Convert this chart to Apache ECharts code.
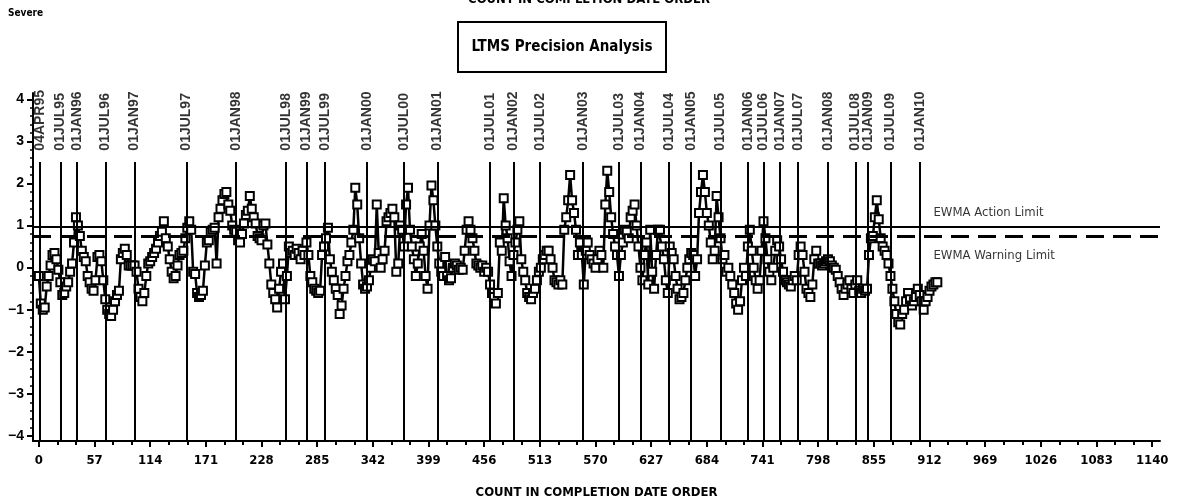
<!DOCTYPE html>
<html>
<head>
<meta charset="utf-8">
<title>LTMS Precision Analysis</title>
<script src="https://cdn.jsdelivr.net/npm/echarts@6/dist/echarts.min.js"></script>
<style>
  html, body { margin: 0; padding: 0; background: #fff; }
  #chart { width: 1178px; height: 504px; }
</style>
</head>
<body>
<div id="chart"></div>
<script>
// EWMA values, one reading every 2 counts starting at count 0
var ewmaStart = 0;
var ewmaStep = 2;
var ewmaValues = [
  -0.2, -0.85, -1.0, -0.95, -0.45, -0.2, 0.05, 0.3, 0.35, 0.2,
  -0.05, -0.35, -0.65, -0.6, -0.45, -0.35, -0.1, 0.1, 0.6, 1.2,
  1.0, 0.75, 0.4, 0.25, 0.15, -0.2, -0.35, -0.5, -0.55, -0.3,
  0.25, 0.3, 0.15, -0.3, -0.75, -1.0, -1.1, -1.15, -1.0, -0.8,
  -0.65, -0.55, 0.2, 0.35, 0.45, 0.3, 0.05, 0.05, 0.05, 0.05,
  -0.1, -0.5, -0.7, -0.8, -0.6, -0.2, 0.1, 0.15, 0.25, 0.35,
  0.45, 0.6, 0.75, 0.85, 1.1, 0.7, 0.5, 0.2, -0.1, -0.25,
  -0.2, 0.05, 0.3, 0.35, 0.4, 0.7, 0.95, 1.1, 0.9, -0.1,
  -0.15, -0.6, -0.7, -0.65, -0.55, 0.05, 0.6, 0.65, 0.85, 0.9,
  0.95, 0.1, 1.2, 1.4, 1.6, 1.75, 1.8, 1.5, 1.35, 1.0,
  0.9, 0.85, 0.65, 0.6, 0.8, 1.05, 1.25, 1.35, 1.7, 1.4,
  1.2, 1.05, 0.75, 0.7, 0.65, 1.0, 1.05, 0.55, 0.1, -0.4,
  -0.6, -0.75, -0.95, -0.5, -0.1, 0.1, -0.75, -0.2,
  0.5, 0.35, 0.4, 0.3, 0.45, 0.35, 0.2, 0.4, 0.3, 0.6,
  0.3, -0.2, -0.35, -0.5, -0.55, -0.6, -0.55, 0.3, 0.5, 0.7,
  0.95, 0.2, -0.1, -0.3, -0.5, -0.65, -1.1, -0.9, -0.5, -0.2,
  0.15, 0.3, 0.6, 0.9, 1.9, 1.5, 0.7, 0.1, -0.4, -0.5,
  -0.45, -0.3, 0.0, 0.2, 0.15, 1.5, 0.35, 0.0, 0.2, 0.4,
  1.1, 1.2, 1.3, 1.4, 1.2, -0.1, 0.1, 1.0, 0.9, 0.5,
  1.5, 1.9, 0.9, 0.5, 0.2, -0.2, 0.1, 0.5, 0.8, 0.4,
  -0.2, -0.5, 1.0, 1.95, 1.6, 1.0, 0.5, 0.1, -0.1, -0.2,
  0.25, -0.2, -0.3, -0.25, 0.0, 0.1, 0.05, -0.05, 0.0, -0.05,
  0.4, 0.9, 1.1, 0.9, 0.7, 0.4, 0.1, 0.05, 0.0, 0.05,
  -0.1, 0.0, -0.1, -0.4, -0.6, -0.7, -0.85, -0.6, 0.6, 0.4,
  1.65, 1.0, 0.7, 0.15, -0.2, 0.3, 0.6, 0.9, 1.1, 0.2,
  -0.1, -0.3, -0.6, -0.7, -0.75, -0.6, -0.5, -0.3, -0.1, 0.0,
  0.2, 0.3, 0.4, 0.4, 0.2, 0.0, -0.3, -0.35, -0.4, -0.3,
  -0.4, 0.9, 1.2, 1.6, 2.2, 1.6, 1.3, 0.9, 0.3, 0.6,
  0.3, -0.4, 0.4, 0.6, 0.3, 0.2, 0.1, 0.0, 0.2, 0.4,
  0.3, 0.0, 1.5, 2.3, 1.8, 1.2, 0.8, 0.5, 0.3, -0.2,
  0.3, 0.6, 0.9, 0.85, 0.7, 1.2, 1.35, 1.5, 1.0, 0.5,
  0.0, -0.3, 0.3, 0.6, -0.4, 0.9, -0.1, -0.5, 0.3, 0.9,
  0.9, 0.5, 0.2, -0.3, -0.6, 0.5, 0.35, 0.2, -0.2, -0.5,
  -0.75, -0.7, -0.6, -0.3, 0.0, 0.2, 0.35, 0.3, -0.2, 0.2,
  1.3, 1.8, 2.2, 1.8, 1.3, 1.0, 0.6, 0.2, 0.4, 1.7,
  1.2, 0.7, 0.2, 0.3, -0.1, 0.0, -0.2, -0.4, -0.6, -0.85,
  -1.0, -0.8, -0.3, 0.0, -0.2, 0.5, 0.9, 0.4, 0.0, -0.3,
  -0.5, -0.3, 0.4, 1.1, 0.7, 0.2, -0.1, -0.3, 0.0, 0.4,
  0.65, 0.5, 0.2, -0.1, -0.3, -0.35, -0.4, -0.45, -0.3, -0.2,
  -0.3, 0.3, 0.5, 0.3, -0.1, -0.5, -0.6, -0.7, -0.4, 0.2,
  0.4, 0.1, 0.1, 0.05, 0.1, 0.15, 0.2, 0.15, 0.05, 0.0,
  -0.05, -0.2, -0.35, -0.5, -0.65, -0.5, -0.4, -0.3, -0.5, -0.6,
  -0.4, -0.3, -0.55, -0.6, -0.5, -0.55, -0.5, 0.3, 0.7, 0.75,
  1.2, 1.6, 1.15, 0.7, 0.5, 0.4, 0.3, 0.1, -0.2, -0.5,
  -0.8, -1.1, -1.3, -1.35, -1.1, -1.0, -0.8, -0.6, -0.75, -0.9,
  -0.8, -0.7, -0.5, -0.65, -0.8, -1.0, -0.8, -0.7, -0.55, -0.45,
  -0.4, -0.35, -0.35
];

// reference dates and the count where each starts
var dateLabels = ["04APR95", "01JUL95", "01JAN96", "01JUL96", "01JAN97", "01JUL97", "01JAN98",
  "01JUL98", "01JAN99", "01JUL99", "01JAN00", "01JUL00", "01JAN01", "01JUL01", "01JAN02",
  "01JUL02", "01JAN03", "01JUL03", "01JAN04", "01JUL04", "01JAN05", "01JUL05", "01JAN06",
  "01JUL06", "01JAN07", "01JUL07", "01JAN08", "01JUL08", "01JAN09", "01JUL09", "01JAN10"];
var dateCounts = [1, 22, 39, 68, 98, 151, 202, 253, 274, 293, 336, 374, 408, 462, 486,
  513, 557, 594, 616, 645, 668, 698, 726, 742, 759, 777, 808, 836, 849, 872, 902];

var xTicks = [0, 57, 114, 171, 228, 285, 342, 399, 456, 513, 570, 627, 684, 741, 798, 855,
  912, 969, 1026, 1083, 1140];
var xMinorTicks = [];
for (var t = 0; t <= 1140; t += 19) xMinorTicks.push(t);
var yTicks = [-4, -3, -2, -1, 0, 1, 2, 3, 4];
var yMinorTicks = [];
for (var m = -20; m <= 20; m++) yMinorTicks.push(m / 5);

var actionLimit = 0.96;
var warningLimit = 0.74;

var xMin = -6, xMax = 1148;
var yMin = -4.12, yMax = 4.15;
var dateLineTop = 2.51;
var dateLabelBase = 2.78;

var ewmaData = ewmaValues.map(function (v, i) {
  return [ewmaStart + i * ewmaStep, v];
});

var narrow = "'Liberation Sans Narrow', 'DejaVu Sans Condensed', sans-serif";
var swiss = "'Liberation Sans', Arial, sans-serif";

var chart = echarts.init(document.getElementById("chart"));
var option = {
  animation: false,
  backgroundColor: "#fff",
  grid: { left: 33, right: 18, top: 93, bottom: 62 },
  xAxis: [
    {
      type: "value", min: xMin, max: xMax, position: "bottom",
      name: "COUNT IN COMPLETION DATE ORDER",
      nameLocation: "middle", nameGap: 45,
      nameTextStyle: { fontFamily: narrow, fontWeight: "bold", fontSize: 13, color: "#000" },
      axisLine: { show: true, onZero: false, lineStyle: { color: "#000", width: 2 } },
      axisTick: { show: true, length: 6, customValues: xTicks, lineStyle: { color: "#000", width: 2 } },
      axisLabel: {
        customValues: xTicks, margin: 13, color: "#000", fontFamily: narrow, fontWeight: "bold", fontSize: 13,
        formatter: function (v) { return String(v); }
      },
      splitLine: { show: false }
    },
    {
      type: "value", min: xMin, max: xMax, position: "bottom",
      axisLine: { show: false, onZero: false },
      axisTick: { show: true, length: 4, customValues: xMinorTicks, lineStyle: { color: "#000", width: 2 } },
      axisLabel: { show: false },
      splitLine: { show: false }
    }
  ],
  yAxis: [
    {
      type: "value", min: yMin, max: yMax, position: "left",
      axisLine: { show: true, onZero: false, lineStyle: { color: "#000", width: 2 } },
      axisTick: { show: true, length: 6, customValues: yTicks, lineStyle: { color: "#000", width: 2 } },
      axisLabel: {
        customValues: yTicks, margin: 9, color: "#000", fontFamily: swiss, fontWeight: "bold", fontSize: 14,
        formatter: function (v) { return v < 0 ? "\u2212" + Math.abs(v) : String(v); }
      },
      splitLine: { show: false }
    },
    {
      type: "value", min: yMin, max: yMax, position: "left",
      axisLine: { show: false, onZero: false },
      axisTick: { show: true, length: 3, customValues: yMinorTicks, lineStyle: { color: "#000", width: 1.5 } },
      axisLabel: { show: false },
      splitLine: { show: false }
    }
  ],
  series: [
    {
      // vertical date reference lines
      type: "line", data: [], z: 1,
      markLine: {
        silent: true, symbol: ["none", "none"],
        label: { show: false },
        lineStyle: { color: "#000", width: 2, type: "solid" },
        data: dateCounts.map(function (c) {
          return [{ coord: [c, dateLineTop] }, { coord: [c, yMin] }];
        })
      }
    },
    {
      name: "EWMA", type: "line", data: ewmaData, z: 3,
      symbol: "rect", symbolSize: 8, showAllSymbol: true,
      itemStyle: { color: "#fff", borderColor: "#000", borderWidth: 2 },
      lineStyle: { color: "#000", width: 2.5 },
      markLine: {
        silent: true, symbol: ["none", "none"],
        label: { show: false },
        data: [
          { yAxis: actionLimit, lineStyle: { color: "#000", width: 2, type: "solid" } },
          { yAxis: warningLimit, lineStyle: { color: "#000", width: 3, type: [18, 9] } }
        ]
      }
    },
    {
      // rotated date labels above each line
      type: "scatter", symbolSize: 0, silent: true, z: 2,
      data: dateCounts.map(function (c, i) {
        return { value: [c, dateLabelBase], name: dateLabels[i] };
      }),
      label: {
        show: true, formatter: "{b}", position: "inside", align: "left", verticalAlign: "middle",
        rotate: 90, color: "#000", fontFamily: swiss, fontWeight: "bold", fontSize: 14
      }
    },
    {
      // limit labels
      type: "scatter", symbolSize: 0, silent: true, z: 2,
      data: [
        { value: [916, 1.3], name: "EWMA Action Limit" },
        { value: [916, 0.28], name: "EWMA Warning Limit" }
      ],
      label: {
        show: true, formatter: "{b}", position: "inside", align: "left", verticalAlign: "middle",
        color: "#000", fontFamily: narrow, fontSize: 13
      }
    }
  ],
  graphic: [
    { type: "text", left: 8, top: 8, style: { text: "Severe", fontFamily: narrow, fontWeight: "bold", fontSize: 10, fill: "#000" } },
    { type: "text", left: "center", top: -7, style: { text: "COUNT IN COMPLETION DATE ORDER", fontFamily: narrow, fontWeight: "bold", fontSize: 13, fill: "#000" } },
    { type: "rect", shape: { x: 458, y: 22, width: 208, height: 50 }, style: { fill: "none", stroke: "#000", lineWidth: 2 } },
    { type: "text", x: 562, y: 47, style: { text: "LTMS Precision Analysis", align: "center", verticalAlign: "middle", fontFamily: narrow, fontWeight: "bold", fontSize: 15, fill: "#000" } }
  ]
};
chart.setOption(option);
</script>
</body>
</html>
